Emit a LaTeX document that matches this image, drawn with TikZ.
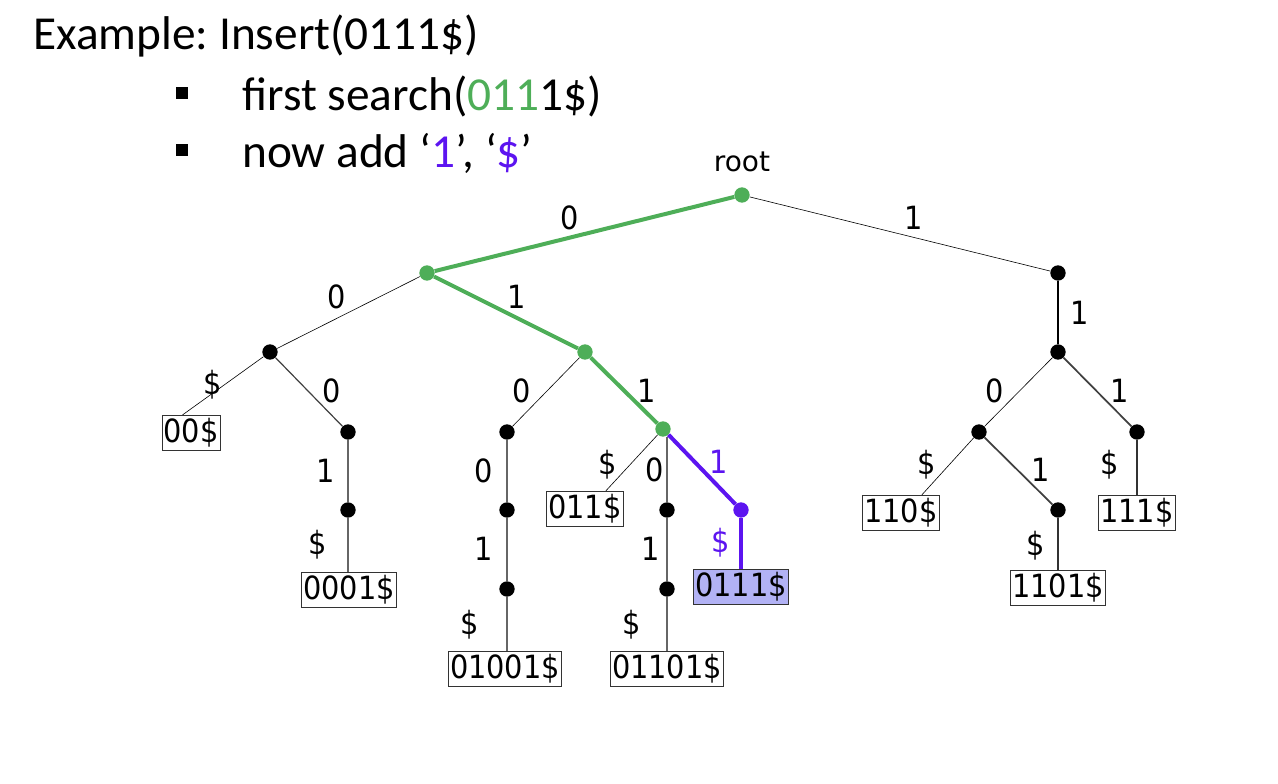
\documentclass[tikz,border=0pt]{standalone}
\usepackage{fontspec}
\setmainfont{Carlito}
\newfontfamily\treefont{DejaVu Sans Condensed}
\newfontfamily\rootfont{DejaVu Sans}
\usetikzlibrary{backgrounds}
\definecolor{sgreen}{RGB}{78,174,88}
\definecolor{spurple}{RGB}{92,20,240}
\definecolor{slav}{RGB}{178,178,245}
\frenchspacing
\begin{document}
\begin{tikzpicture}[x=0.75pt,y=-0.75pt,
  dot/.style={circle,fill=black,inner sep=0pt,minimum size=11.5pt},
  gdot/.style={dot,fill=sgreen},
  pdot/.style={dot,fill=spurple},
  leaf/.style={draw=black!80,fill=white,line width=0.6pt,inner xsep=1.2pt,inner ysep=2.4pt,font=\treefont\fontsize{24}{26}\selectfont},
  lab/.style={font=\treefont\fontsize{24}{26}\selectfont,inner sep=0pt},
  plab/.style={lab,text=spurple},
  thin/.style={line width=0.45pt,black},
  vert/.style={line width=0.9pt,black!60},
  mid/.style={line width=1.3pt,black!75},
  gedge/.style={line width=3pt,sgreen},
  pedge/.style={line width=3pt,spurple},
  big/.style={anchor=base west,inner sep=0pt,font=\fontsize{35.5}{40}\selectfont},
  bul/.style={fill=black,inner sep=0pt,minimum size=9pt}]
\useasboundingbox (0,0) rectangle (1278,784);
% title
\node[big] (title) at (33,50) {Example: Insert(0111\$)};
\node[bul] (b1) at (182,93) {};
\node[bul] (b2) at (182,150) {};
\node[big] (t2) at (242,111) {first search(\textcolor{sgreen}{011}1\$)};
\node[big] (t3) at (242,168) {now add ‘\textcolor{spurple}{1}’, ‘\textcolor{spurple}{\$}’};
% nodes
\node[gdot] (r) at (742,195) {};
\node[gdot] (n0) at (427,273) {};
\node[dot] (n1) at (1058,273) {};
\node[dot] (n00) at (270,352) {};
\node[gdot] (n01) at (585,352) {};
\node[dot] (n11) at (1058,352) {};
\node[dot] (n000) at (348,432) {};
\node[dot] (n0001) at (348,510) {};
\node[dot] (n010) at (507,432) {};
\node[dot] (n0100) at (507,510) {};
\node[dot] (n01001) at (507,589) {};
\node[gdot] (n011) at (663,429) {};
\node[dot] (n0110) at (667,510) {};
\node[dot] (n01101) at (667,589) {};
\node[pdot] (n0111) at (741,510) {};
\node[dot] (n110) at (979,432) {};
\node[dot] (n1101) at (1058,510) {};
\node[dot] (n111) at (1137,432) {};
% leaves
\node[leaf] (b00) at (191,433) {00\$};
\node[leaf] (b0001) at (349,590) {0001\$};
\node[leaf] (b01001) at (505,669) {01001\$};
\node[leaf] (b011) at (585,509) {011\$};
\node[leaf] (b01101) at (667,669) {01101\$};
\node[leaf,fill=slav] (b0111) at (741,587) {0111\$};
\node[leaf] (b110) at (901,513) {110\$};
\node[leaf] (b1101) at (1058,588) {1101\$};
\node[leaf] (b111) at (1137,513) {111\$};
% labels
\node[lab,font=\rootfont\fontsize{21}{23}\selectfont] (lroot) at (742,162) {root};
\node[lab] at (570,218) {0};
\node[lab] at (914,218) {1};
\node[lab] at (337,297) {0};
\node[lab] at (517,297) {1};
\node[lab] at (1080,313) {1};
\node[lab] at (213,385) {\$};
\node[lab] at (332,391) {0};
\node[lab] at (522,391) {0};
\node[lab] at (647,391) {1};
\node[lab] at (995,391) {0};
\node[lab] at (1120,391) {1};
\node[lab] at (326,471) {1};
\node[lab] at (484,471) {0};
\node[lab] at (608,465) {\$};
\node[lab] at (655,470) {0};
\node[plab] at (719,462) {1};
\node[lab] at (927,465) {\$};
\node[lab] at (1041,470) {1};
\node[lab] at (1110,465) {\$};
\node[lab] at (318,545) {\$};
\node[lab] at (484,549) {1};
\node[lab] at (651,549) {1};
\node[plab] at (721,543) {\$};
\node[lab] at (1036,546) {\$};
\node[lab] at (470,625) {\$};
\node[lab] at (632,625) {\$};
% edges
\begin{scope}[on background layer]
\draw[gedge] (r) -- (n0);
\draw[gedge] (n0) -- (n01);
\draw[gedge] (n01) -- (n011);
\draw[pedge] (n011) -- (n0111);
\draw[pedge] (n0111) -- (n0111 |- b0111.north);
\draw[thin] (r) -- (n1);
\draw[vert,black] (n1) -- (n11);
\draw[thin] (n0) -- (n00);
\draw[thin] (n00) -- (b00.115);
\draw[mid,line width=0.9pt] (n00) -- (n000);
\draw[vert] (n000) -- (n0001);
\draw[vert] (n0001) -- (n0001 |- b0001.north);
\draw[thin] (n01) -- (n010);
\draw[vert] (n010) -- (n0100);
\draw[vert] (n0100) -- (n01001);
\draw[vert] (n01001) -- (n01001 |- b01001.north);
\draw[thin] (n011) -- (b011.41);
\draw[vert] (n011.south -| n0110) -- (n0110);
\draw[vert] (n0110) -- (n01101);
\draw[vert] (n01101) -- (n01101 |- b01101.north);
\draw[thin] (n11) -- (n110);
\draw[mid] (n11) -- (n111);
\draw[thin] (n110) -- (b110.41);
\draw[mid] (n110) -- (n1101);
\draw[vert,black!80] (n1101) -- (n1101 |- b1101.north);
\draw[vert,black!80] (n111) -- (n111 |- b111.north);
\end{scope}
\end{tikzpicture}
\end{document}
